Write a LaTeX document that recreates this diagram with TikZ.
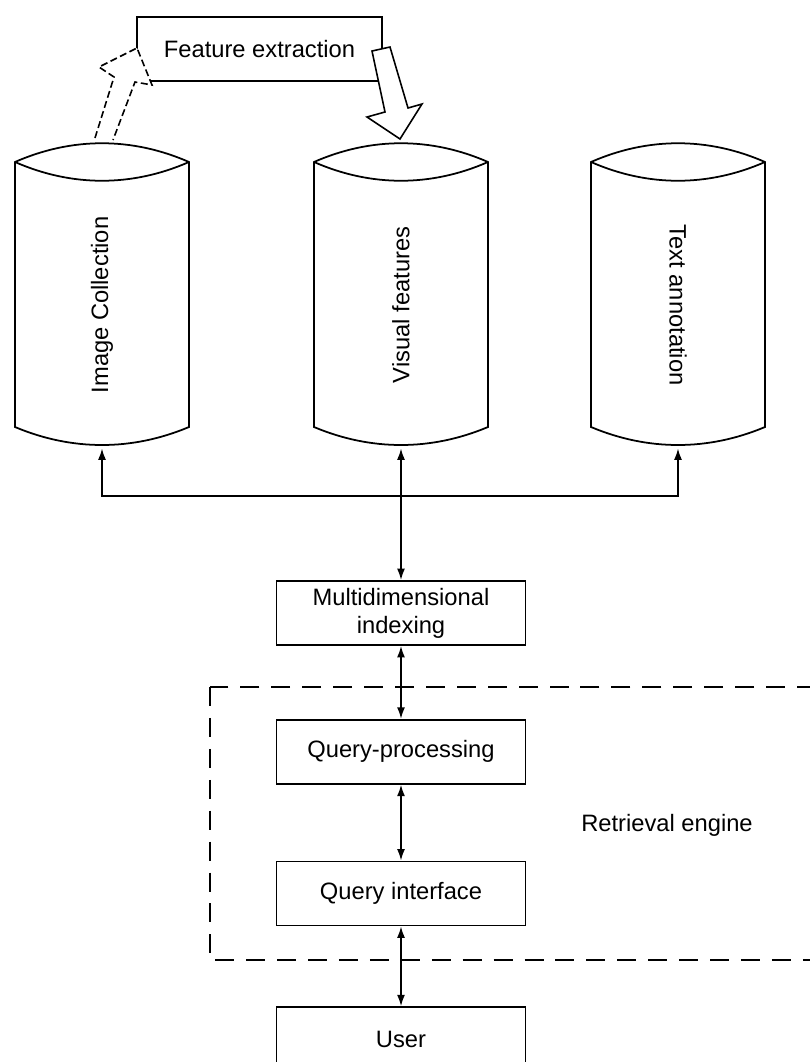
\documentclass[tikz,border=0pt]{standalone}
\usepackage{fontspec}
\setmainfont{Liberation Sans}
\usetikzlibrary{arrows.meta,positioning}

\tikzset{
  blockbox/.style={draw,line width=1pt,minimum width=4.98cm,minimum height=1.28cm,align=center,inner sep=2pt},
  drum/.style={minimum width=3.48cm,minimum height=5.72cm,inner sep=0pt},
  duplex/.style={line width=1pt,{Latex[length=6.5pt,width=4.5pt]}-{Latex[length=6.5pt,width=4.5pt]}},
  feed/.style={line width=1pt,-{Latex[length=6.5pt,width=4.5pt]}},
  region/.style={line width=1pt,dash pattern=on 10.8pt off 6.8pt},
  hollow/.style={line width=0.9pt,fill=white,line join=miter},
}
% outline of a database drum round a node
\newcommand{\drumline}[1]{%
  \draw[line width=1pt,shift={(#1.center)}]
    (-87,-143) .. controls (-30,-168) and (30,-168) .. (87,-143) -- (87,122)
    .. controls (30,146) and (-30,146) .. (-87,122) -- cycle
    (-87,-143) .. controls (-30,-118) and (30,-118) .. (87,-143);}

\begin{document}
\begin{tikzpicture}[x=0.02cm,y=-0.02cm,font=\fontsize{13.5}{16}\selectfont]
  \useasboundingbox (0,0) rectangle (809,1062);

  % feature extraction and the two block arrows
  \node[blockbox,minimum width=4.9cm] (fext) at (259.5,49) {Feature extraction};
  \draw[hollow,dash pattern=on 4pt off 2pt] (95,138) -- (114,77) -- (99,67) -- (137,48) -- (152,85) -- (135,82) -- (113,140);
  \draw[hollow] (372,51) -- (385,112) -- (367,117) -- (400,139) -- (422,104) -- (408,108) -- (390,47) -- cycle;

  % databases
  \node[drum] (imgc) at (102,305) {\rotatebox{90}{Image Collection}};
  \node[drum] (visf) at (401,305) {\rotatebox{90}{Visual features}};
  \node[drum] (txta) at (678,305) {\rotatebox{-90}{Text annotation}};
  \drumline{imgc}
  \drumline{visf}
  \drumline{txta}

  % retrieval chain
  \node[blockbox] (mdi) at (401,613) {Multidimensional\\indexing};
  \node[blockbox,below=1.46cm of mdi] (qp) {Query-processing};
  \node[blockbox,below=1.52cm of qp] (qi) {Query interface};
  \node[blockbox,below=1.6cm of qi] (user) {User};

  \draw[region] (210,687) rectangle (812,960);
  \node (reng) at (667,825) {Retrieval engine};

  \coordinate (hub) at (401,496);
  \draw[duplex] (visf.south) -- (mdi.north);
  \draw[feed] (hub) -| (imgc.south);
  \draw[feed] (hub) -| (txta.south);
  \draw[duplex] (mdi) -- (qp);
  \draw[duplex] (qp) -- (qi);
  \draw[duplex] (qi) -- (user);
\end{tikzpicture}
\end{document}
